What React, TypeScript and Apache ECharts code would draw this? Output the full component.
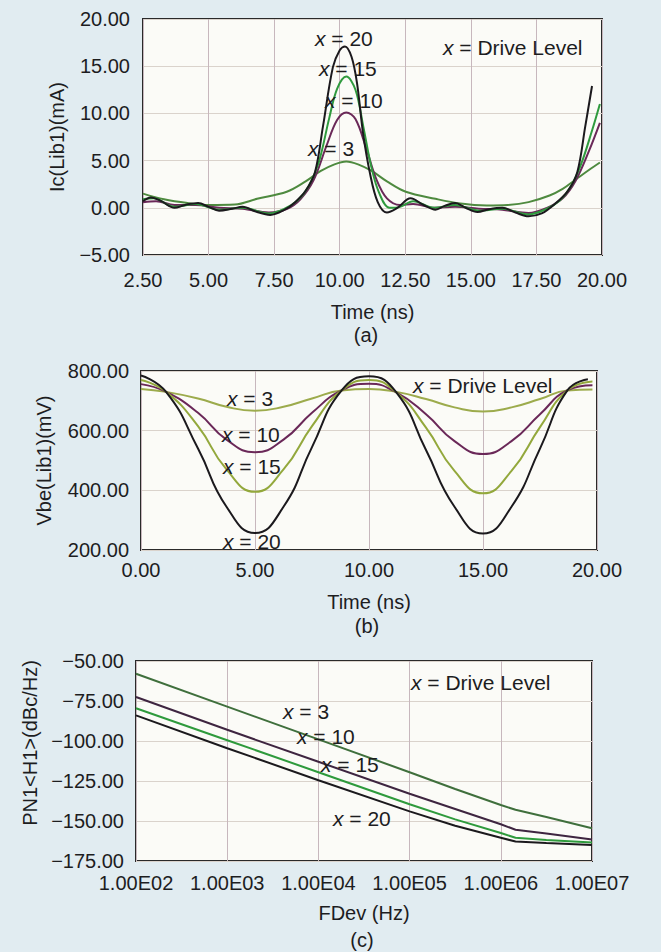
import React, { useEffect, useRef } from "react";
import * as echarts from "echarts";

// ---------- (a) Ic(Lib1) vs time ----------
const aTime20 = [2.5, 2.8, 3.2, 3.7, 4.1, 4.6, 5.0, 5.4, 5.9, 6.3, 6.8, 7.35, 7.9, 8.3, 8.7, 9.06, 9.36, 9.74, 10.0, 10.2, 10.45, 10.66, 10.89, 11.15, 11.45, 11.8, 12.2, 12.7, 13.2, 13.65, 14.0, 14.4, 14.8, 15.25, 15.7, 16.2, 16.7, 17.2, 17.7, 18.2, 18.7, 19.06, 19.36, 19.62];
const aIc20 = [0.7, 1.1, 0.7, 0.0, 0.3, 0.5, 0.1, -0.3, -0.1, 0.1, -0.4, -0.75, -0.2, 0.6, 1.8, 3.8, 8.6, 14.9, 16.7, 17.1, 16.0, 13.2, 7.9, 3.7, 0.6, -0.5, 0.0, 1.0, 0.3, -0.2, 0.2, 0.5, 0.0, -0.45, -0.15, 0.0, -0.5, -0.9, -0.6, 0.4, 1.8, 3.8, 8.6, 12.9];

const aTime15 = [2.5, 2.9, 3.7, 4.5, 5.4, 6.3, 7.3, 7.9, 8.4, 8.8, 9.2, 9.6, 9.9, 10.25, 10.6, 10.9, 11.2, 11.5, 11.9, 12.3, 12.8, 13.6, 14.4, 15.3, 16.2, 17.2, 17.9, 18.4, 18.8, 19.2, 19.6, 19.92];
const aIc15 = [0.9, 1.0, 0.1, 0.4, -0.2, 0.0, -0.6, -0.1, 0.8, 2.2, 4.8, 9.5, 12.6, 13.9, 12.5, 8.6, 4.4, 1.6, 0.0, 0.1, 0.7, 0.0, 0.3, -0.3, -0.1, -0.7, -0.1, 0.8, 2.2, 4.6, 8.0, 11.0];

const aTime10 = [2.5, 3.0, 3.7, 4.5, 5.4, 6.3, 7.3, 8.0, 8.5, 9.0, 9.5, 9.9, 10.25, 10.6, 11.0, 11.4, 11.8, 12.3, 12.8, 13.6, 14.4, 15.3, 16.2, 17.2, 17.9, 18.5, 19.0, 19.5, 19.92];
const aIc10 = [0.6, 0.7, 0.3, 0.3, 0.0, -0.1, -0.5, -0.1, 0.9, 2.9, 6.6, 9.3, 10.1, 9.4, 6.4, 3.0, 1.0, 0.3, 0.4, 0.0, 0.1, -0.1, -0.2, -0.55, 0.0, 1.0, 2.9, 6.0, 9.0];

const aTime3 = [2.5, 3.3, 4.2, 5.0, 6.0, 6.85, 7.98, 8.7, 9.28, 9.8, 10.25, 10.7, 11.22, 11.8, 12.52, 13.65, 14.6, 15.6, 16.4, 17.2, 18.0, 18.5, 19.0, 19.5, 19.92];
const aIc3 = [1.5, 0.9, 0.5, 0.3, 0.35, 0.95, 1.7, 2.8, 3.9, 4.6, 4.9, 4.6, 3.9, 2.8, 1.7, 0.95, 0.45, 0.25, 0.3, 0.6, 1.3, 2.0, 3.0, 4.0, 4.8];

// ---------- (b) Vbe(Lib1) vs time ----------
const bTime = [0, 1.1, 2.5, 3.75, 5, 6.25, 7.5, 8.8, 10, 11.2, 12.5, 13.75, 15, 16.25, 17.5, 18.7, 19.8];
const bTime20 = [0, 1.1, 2.5, 3.75, 5, 6.25, 7.5, 8.8, 10, 11.2, 12.5, 13.75, 15, 16.25, 17.5, 18.7, 19.6];
const bVbe20 = [785, 730, 540, 345, 257, 345, 545, 735, 782, 728, 535, 345, 255, 345, 540, 735, 772];
const bVbe15 = [770, 730, 615, 470, 395, 470, 615, 735, 770, 728, 610, 465, 390, 465, 612, 735, 765];
const bVbe10 = [756, 730, 660, 570, 528, 570, 660, 735, 757, 728, 655, 565, 522, 565, 655, 735, 752];
const bVbe3 = [740, 730, 708, 680, 667, 680, 708, 735, 740, 730, 706, 678, 664, 678, 706, 735, 738];

// ---------- (c) phase noise vs offset frequency ----------
const cFreq = [1e2, 1e3, 1e4, 1e5, 3.16e5, 1e6, 1.45e6, 3.16e6, 1e7];
const cPn3 = [-58, -78.5, -99, -119.5, -130, -140, -143, -147.5, -154.5];
const cPn10 = [-72.5, -93, -113, -133, -142.5, -152, -155.5, -157.8, -161.5];
const cPn15 = [-79.5, -99.5, -119.5, -139.5, -149, -157.5, -160.5, -161.8, -163.5];
const cPn20 = [-84, -104.5, -124.5, -144, -153, -160.5, -162.8, -163.8, -165];

const curveLabels = ["x = 3", "x = 10", "x = 15", "x = 20"];

const FONT = '"Liberation Sans", Arial, Helvetica, sans-serif';
const TXT = "#1d1d1f";
const C20 = "#1b191d";
const C10 = "#6a2858";
const C15A = "#2f9a3e";
const C3A = "#4e8a3f";
const C15B = "#93a83c";
const C3B = "#9cab4c";
const C10C = "#3e2540";
const C15C = "#2e9a3c";
const C3C = "#3f6f3c";

const zip = (xs: number[], ys: number[]) => xs.map((x, i) => [x, ys[i]]);
const fixed = (v: number) => (v < 0 ? "\u2212" : "") + Math.abs(v).toFixed(2);
const sci = (v: number) => {
  const e = Math.round(Math.log10(v));
  return "1.00E" + String(e).padStart(2, "0");
};

function labelText(x: number, y: number, s: string, size = 21) {
  const parts = s.split("x");
  return {
    type: "text",
    x,
    y,
    z: 100,
    style: {
      text: parts.length > 1 ? "{i|x}" + parts[1] : s,
      fontSize: size,
      fontFamily: FONT,
      fill: TXT,
      textAlign: "left",
      textVerticalAlign: "middle",
      verticalAlign: "middle",
      lineHeight: 22,
      rich: { i: { fontStyle: "italic", fontSize: size, fontFamily: FONT, fill: TXT, lineHeight: 22 } },
    },
  };
}
function caption(x: number, y: number, s: string) {
  return {
    type: "text",
    x,
    y,
    style: { text: s, fontSize: 20, fontFamily: FONT, fill: TXT, textAlign: "center", textVerticalAlign: "middle", verticalAlign: "middle" },
  };
}

const axisLabelBase = { fontSize: 20, fontFamily: FONT, color: TXT };
const nameStyle = { fontSize: 20, fontFamily: FONT, color: TXT };
const vGrid = { show: true, lineStyle: { color: "#c7b7bd", width: 1 } };
const hGrid = { show: true, lineStyle: { color: "#dad3cc", width: 1 } };

function line(xi: number, data: number[][], color: string, z: number, smooth: number | boolean, width = 2) {
  return {
    type: "line",
    xAxisIndex: xi,
    yAxisIndex: xi,
    data,
    symbol: "none",
    smooth,
    z,
    lineStyle: { color, width },
    itemStyle: { color },
  };
}

export default function App() {
  const ref = useRef<HTMLDivElement>(null);
  useEffect(() => {
    if (!ref.current) return;
    const chart = echarts.init(ref.current, null, { renderer: "svg" });
    const gridBase = { show: true, backgroundColor: "#fbfbf7", borderColor: "#2a2a2a", borderWidth: 2, containLabel: false };
    chart.setOption({
      animation: false,
      backgroundColor: "#e1ecf1",
      grid: [
        { ...gridBase, left: 143, top: 19, width: 459, height: 236 },
        { ...gridBase, left: 141, top: 371, width: 456, height: 179 },
        { ...gridBase, left: 136, top: 661, width: 456, height: 200 },
      ],
      xAxis: [
        {
          type: "value", gridIndex: 0, min: 2.5, max: 20, interval: 2.5,
          axisLine: { show: false }, axisTick: { show: false },
          axisLabel: { ...axisLabelBase, margin: 15, formatter: fixed, showMinLabel: true, showMaxLabel: true },
          splitLine: vGrid,
          name: "Time (ns)", nameLocation: "middle", nameGap: 47, nameTextStyle: nameStyle,
        },
        {
          type: "value", gridIndex: 1, min: 0, max: 20, interval: 5,
          axisLine: { show: false }, axisTick: { show: false },
          axisLabel: { ...axisLabelBase, margin: 10, formatter: fixed, showMinLabel: true, showMaxLabel: true },
          splitLine: vGrid,
          name: "Time (ns)", nameLocation: "middle", nameGap: 42, nameTextStyle: nameStyle,
        },
        {
          type: "log", logBase: 10, gridIndex: 2, min: 100, max: 1e7,
          axisLine: { show: false }, axisTick: { show: false }, minorTick: { show: false },
          axisLabel: { ...axisLabelBase, margin: 12, formatter: sci, showMinLabel: true, showMaxLabel: true },
          splitLine: vGrid,
          name: "FDev (Hz)", nameLocation: "middle", nameGap: 42, nameTextStyle: nameStyle,
        },
      ],
      yAxis: [
        {
          type: "value", gridIndex: 0, min: -5, max: 20, interval: 5,
          axisLine: { show: false }, axisTick: { show: false },
          axisLabel: { ...axisLabelBase, margin: 13, formatter: fixed, showMinLabel: true, showMaxLabel: true },
          splitLine: hGrid,
          name: "Ic(Lib1)(mA)", nameLocation: "middle", nameGap: 76, nameTextStyle: nameStyle,
        },
        {
          type: "value", gridIndex: 1, min: 200, max: 800, interval: 200,
          axisLine: { show: false }, axisTick: { show: false },
          axisLabel: { ...axisLabelBase, margin: 12, formatter: fixed, showMinLabel: true, showMaxLabel: true },
          splitLine: hGrid,
          name: "Vbe(Lib1)(mV)", nameLocation: "middle", nameGap: 87, nameTextStyle: nameStyle,
        },
        {
          type: "value", gridIndex: 2, min: -175, max: -50, interval: 25,
          axisLine: { show: false }, axisTick: { show: false },
          axisLabel: { ...axisLabelBase, margin: 12, formatter: fixed, showMinLabel: true, showMaxLabel: true },
          splitLine: hGrid,
          name: "PN1<H1>(dBc/Hz)", nameLocation: "middle", nameGap: 94,
          nameTextStyle: { ...nameStyle, padding: [0, 0, 0, 36] },
        },
      ],
      series: [
        line(0, zip(aTime3, aIc3), C3A, 2, 0.35),
        line(0, zip(aTime10, aIc10), C10, 3, 0.35),
        line(0, zip(aTime15, aIc15), C15A, 4, 0.35),
        line(0, zip(aTime20, aIc20), C20, 5, 0.35),
        line(1, zip(bTime, bVbe3), C3B, 2, 0.5),
        line(1, zip(bTime, bVbe10), C10, 3, 0.5),
        line(1, zip(bTime, bVbe15), C15B, 4, 0.5),
        line(1, zip(bTime20, bVbe20), C20, 5, 0.5),
        line(2, zip(cFreq, cPn3), C3C, 2, false),
        line(2, zip(cFreq, cPn10), C10C, 3, false),
        line(2, zip(cFreq, cPn15), C15C, 4, false),
        line(2, zip(cFreq, cPn20), C20, 5, false),
      ],
      graphic: [
        labelText(443, 47, "x = Drive Level"),
        labelText(315, 38, curveLabels[3]),
        labelText(319, 68, curveLabels[2]),
        labelText(325, 100, curveLabels[1]),
        labelText(308, 148, curveLabels[0]),
        caption(366, 335, "(a)"),
        labelText(413, 385, "x = Drive Level"),
        labelText(227, 398, curveLabels[0]),
        labelText(222, 434, curveLabels[1]),
        labelText(223, 466, curveLabels[2]),
        labelText(223, 541, curveLabels[3]),
        caption(367, 626, "(b)"),
        labelText(411, 682, "x = Drive Level"),
        labelText(283, 711, curveLabels[0]),
        labelText(297, 736, curveLabels[1]),
        labelText(321, 764, curveLabels[2]),
        labelText(333, 818, curveLabels[3]),
        caption(362, 940, "(c)"),
      ],
    });
    return () => chart.dispose();
  }, []);
  return (
    <div
      ref={ref}
      style={{ position: "absolute", left: 0, top: 0, width: 661, height: 952, background: "#e1ecf1" }}
    />
  );
}
